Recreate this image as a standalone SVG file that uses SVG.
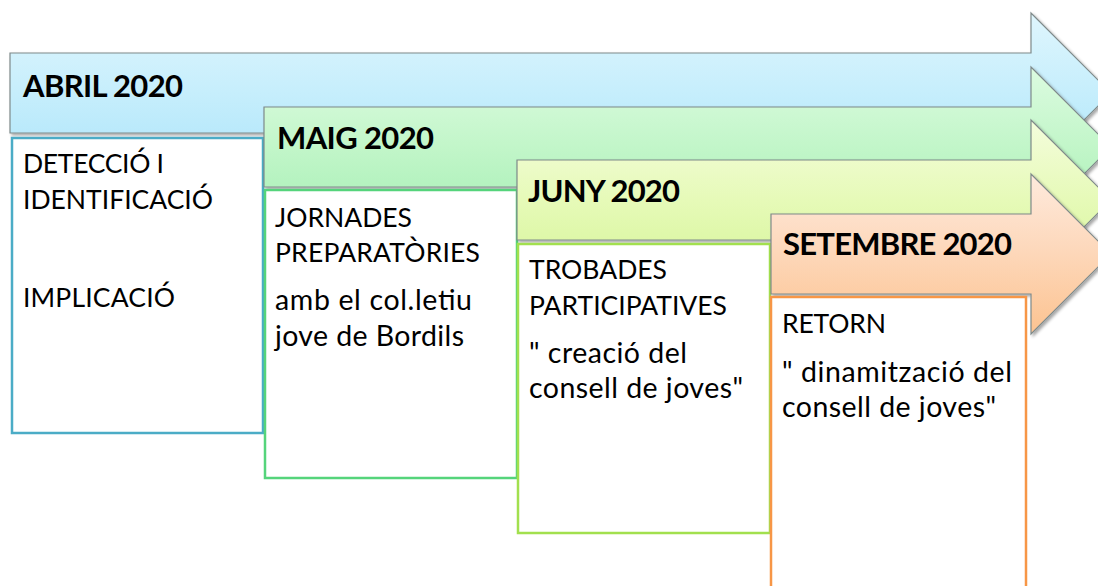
<svg xmlns="http://www.w3.org/2000/svg" width="1098" height="586" viewBox="0 0 1098 586">
<defs>
<linearGradient id="gBlue" x1="0" y1="0" x2="0" y2="1"><stop offset="0" stop-color="#dff6fd"/><stop offset="0.5" stop-color="#c6eefc"/><stop offset="1" stop-color="#ade5fa"/></linearGradient>
<linearGradient id="gGreen" x1="0" y1="0" x2="0" y2="1"><stop offset="0" stop-color="#dcfbe0"/><stop offset="0.5" stop-color="#c2f6c9"/><stop offset="1" stop-color="#a6efb5"/></linearGradient>
<linearGradient id="gYellow" x1="0" y1="0" x2="0" y2="1"><stop offset="0" stop-color="#f4fddc"/><stop offset="0.5" stop-color="#e6fab8"/><stop offset="1" stop-color="#d6f598"/></linearGradient>
<linearGradient id="gOrange" x1="0" y1="0" x2="0" y2="1"><stop offset="0" stop-color="#feeadd"/><stop offset="0.5" stop-color="#fdd7b9"/><stop offset="1" stop-color="#fcc391"/></linearGradient>
<filter id="sh" x="-5%" y="-10%" width="115%" height="130%"><feDropShadow dx="2" dy="2" stdDeviation="1.8" flood-color="#000" flood-opacity="0.35"/></filter>
</defs>
<style>
.arrow{stroke:#7f8a8a;stroke-width:1.2;filter:url(#sh)}
.box{fill:#ffffff;stroke-width:2.5}
.title{font-family:Lato,"Liberation Sans",sans-serif;font-weight:bold;font-size:31px;fill:#000}
.txt{font-family:Lato,"Liberation Sans",sans-serif;font-size:26.5px;fill:#000}
.low{font-size:28.5px}
</style>
<rect width="1098" height="586" fill="#ffffff"/>
<g id="abril">
<path class="arrow" fill="url(#gBlue)" d="M10,53 H1031 V13 L1111,93 L1031,173 V133 H10 Z"/>
<rect class="box" stroke="#4bacc6" x="12" y="138" width="251" height="295"/>
<text class="title" x="23" y="97" textLength="160">ABRIL 2020</text>
<text class="txt" x="23" y="173" textLength="141">DETECCIÓ I</text>
<text class="txt" x="23" y="209" textLength="190">IDENTIFICACIÓ</text>
<text class="txt" x="23" y="307" textLength="152">IMPLICACIÓ</text>
</g>
<g id="maig">
<path class="arrow" fill="url(#gGreen)" d="M264,107 H1031 V67 L1111,147 L1031,227 V187 H264 Z"/>
<rect class="box" stroke="#55d47b" x="265" y="190" width="252" height="288"/>
<text class="title" x="277" y="149" textLength="157">MAIG 2020</text>
<text class="txt" x="275" y="227" textLength="137">JORNADES</text>
<text class="txt" x="275" y="262" textLength="205">PREPARATÒRIES</text>
<text class="txt low" x="275" y="310" textLength="197">amb el col.letiu</text>
<text class="txt low" x="275" y="346" textLength="189">jove de Bordils</text>
</g>
<g id="juny">
<path class="arrow" fill="url(#gYellow)" d="M517,160 H1031 V120 L1111,200 L1031,280 V240 H517 Z"/>
<rect class="box" stroke="#a2e04e" x="518" y="244" width="252" height="289"/>
<text class="title" x="528" y="202" textLength="152">JUNY 2020</text>
<text class="txt" x="529" y="279" textLength="138">TROBADES</text>
<text class="txt" x="529" y="315" textLength="198">PARTICIPATIVES</text>
<text class="txt low" x="529" y="363" textLength="158">" creació del</text>
<text class="txt low" x="529" y="398" textLength="214">consell de joves"</text>
</g>
<g id="setembre">
<path class="arrow" fill="url(#gOrange)" d="M771,214 H1031 V174 L1111,254 L1031,334 V294 H771 Z"/>
<rect class="box" stroke="#f79646" x="771" y="297" width="255" height="300"/>
<text class="title" x="783" y="255" textLength="229">SETEMBRE 2020</text>
<text class="txt" x="782" y="333" textLength="104">RETORN</text>
<text class="txt low" x="782" y="382" textLength="230">" dinamització del</text>
<text class="txt low" x="782" y="417" textLength="214">consell de joves"</text>
</g>
<g id="connectors"/>
</svg>
